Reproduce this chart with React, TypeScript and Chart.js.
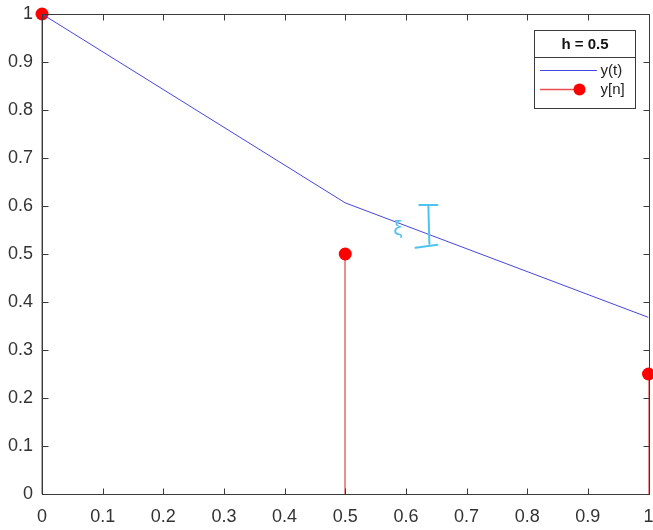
import React, { useEffect, useRef } from "react";
import { Chart, registerables } from "chart.js";

Chart.register(...registerables);

const T_VALUES = [0, 0.5, 1];
const Y_EXACT = [1, 0.6065, 0.3679];
const Y_EULER = [1, 0.5, 0.25];
const X_TICKS = [0, 0.1, 0.2, 0.3, 0.4, 0.5, 0.6, 0.7, 0.8, 0.9, 1];
const Y_TICKS = [0, 0.1, 0.2, 0.3, 0.4, 0.5, 0.6, 0.7, 0.8, 0.9, 1];
const LEGEND_TITLE = "h = 0.5";
const LEGEND_LABELS = ["y(t)", "y[n]"];
const ERR_BAR_X = [0.622, 0.652];
const ERR_BAR_BOTTOM_X = [0.616, 0.652];
const ERR_BAR_Y = [0.515, 0.602];
const ERR_SYMBOL = "ξ";
const ERR_SYMBOL_POS = [0.587, 0.552];

const BLUE = "rgb(70,70,225)";
const RED = "#ff0000";
const STEM = "rgb(232,80,80)";
const CYAN = "#4fc3f0";
const AXIS = "#3a3a3a";
const FONT = "'Liberation Sans', Arial, sans-serif";

const decorPlugin = {
  id: "decor",
  beforeDatasetsDraw(chart: any) {
    const ctx = chart.ctx;
    const xs = chart.scales.x;
    const ys = chart.scales.y;
    ctx.save();
    ctx.strokeStyle = STEM;
    ctx.lineWidth = 1.3;
    T_VALUES.forEach((t, i) => {
      const px = Math.round(xs.getPixelForValue(t));
      ctx.beginPath();
      ctx.moveTo(px, ys.getPixelForValue(0));
      ctx.lineTo(px, ys.getPixelForValue(Y_EULER[i]));
      ctx.stroke();
    });
    ctx.restore();
  },
  afterDraw(chart: any) {
    const ctx = chart.ctx;
    const a = chart.chartArea;
    const xs = chart.scales.x;
    const ys = chart.scales.y;
    ctx.save();
    // box
    ctx.strokeStyle = AXIS;
    ctx.lineWidth = 1;
    const L = Math.round(a.left) + 0.5;
    const R = Math.round(a.right) + 0.5;
    const Tp = Math.round(a.top) + 0.5;
    const B = Math.round(a.bottom) + 0.5;
    ctx.strokeRect(L, Tp, R - L, B - Tp);
    // inward ticks
    const tl = 6;
    ctx.beginPath();
    X_TICKS.forEach((v) => {
      const px = Math.round(xs.getPixelForValue(v)) + 0.5;
      ctx.moveTo(px, B);
      ctx.lineTo(px, B - tl);
      ctx.moveTo(px, Tp);
      ctx.lineTo(px, Tp + tl);
    });
    Y_TICKS.forEach((v) => {
      const py = Math.round(ys.getPixelForValue(v)) + 0.5;
      ctx.moveTo(L, py);
      ctx.lineTo(L + tl, py);
      ctx.moveTo(R, py);
      ctx.lineTo(R - tl, py);
    });
    ctx.stroke();

    // cyan annotation
    ctx.strokeStyle = CYAN;
    ctx.lineWidth = 2;
    ctx.lineCap = "round";
    const yTop = ys.getPixelForValue(ERR_BAR_Y[1]);
    const yBot = ys.getPixelForValue(ERR_BAR_Y[0]);
    const xMid = xs.getPixelForValue((ERR_BAR_X[0] + ERR_BAR_X[1]) / 2);
    ctx.beginPath();
    ctx.moveTo(xs.getPixelForValue(ERR_BAR_X[0]), yTop);
    ctx.lineTo(xs.getPixelForValue(ERR_BAR_X[1]), yTop);
    ctx.moveTo(xMid, yTop);
    ctx.lineTo(xMid + 1, yBot - 3);
    ctx.moveTo(xs.getPixelForValue(ERR_BAR_BOTTOM_X[0]), yBot + 1);
    ctx.lineTo(xs.getPixelForValue(ERR_BAR_BOTTOM_X[1]), yBot - 2);
    ctx.stroke();
    ctx.fillStyle = CYAN;
    ctx.font = `20px ${FONT}`;
    ctx.textAlign = "center";
    ctx.textBaseline = "middle";
    ctx.fillText(ERR_SYMBOL, xs.getPixelForValue(ERR_SYMBOL_POS[0]), ys.getPixelForValue(ERR_SYMBOL_POS[1]));

    // legend
    const lw = 101;
    const lh = 78;
    const lx = Math.round(a.right - 14) - lw + 0.5;
    const ly = Math.round(a.top + 16) + 0.5;
    ctx.fillStyle = "#ffffff";
    ctx.fillRect(lx, ly, lw, lh);
    ctx.strokeStyle = AXIS;
    ctx.lineWidth = 1;
    ctx.strokeRect(lx, ly, lw, lh);
    ctx.beginPath();
    ctx.moveTo(lx, ly + 27);
    ctx.lineTo(lx + lw, ly + 27);
    ctx.stroke();
    ctx.fillStyle = "#111";
    ctx.font = `bold 15px ${FONT}`;
    ctx.textAlign = "center";
    ctx.fillText(LEGEND_TITLE, lx + lw / 2, ly + 14);
    ctx.font = `15px ${FONT}`;
    ctx.textAlign = "left";
    ctx.fillStyle = "#222";
    // entry 1
    const e1y = ly + 40;
    ctx.strokeStyle = BLUE;
    ctx.beginPath();
    ctx.moveTo(lx + 6, e1y);
    ctx.lineTo(lx + 62, e1y);
    ctx.stroke();
    ctx.fillText(LEGEND_LABELS[0], lx + 66, e1y);
    // entry 2
    const e2y = ly + 59;
    ctx.strokeStyle = STEM;
    ctx.lineWidth = 1.3;
    ctx.beginPath();
    ctx.moveTo(lx + 6, e2y);
    ctx.lineTo(lx + 45, e2y);
    ctx.stroke();
    ctx.fillStyle = RED;
    ctx.beginPath();
    ctx.arc(lx + 45, e2y, 6, 0, Math.PI * 2);
    ctx.fill();
    ctx.fillStyle = "#222";
    ctx.fillText(LEGEND_LABELS[1], lx + 66, e2y);
    ctx.restore();
  },
};

export default function App() {
  const ref = useRef<HTMLCanvasElement>(null);
  useEffect(() => {
    if (!ref.current) return;
    const chart = new Chart(ref.current, {
      type: "scatter",
      data: {
        datasets: [
          {
            label: LEGEND_LABELS[0],
            data: T_VALUES.map((t, i) => ({ x: t, y: Y_EXACT[i] })),
            showLine: true,
            borderColor: BLUE,
            borderWidth: 1,
            pointRadius: 0,
            pointHoverRadius: 0,
          },
          {
            label: LEGEND_LABELS[1],
            data: T_VALUES.map((t, i) => ({ x: t, y: Y_EULER[i] })),
            showLine: false,
            backgroundColor: RED,
            borderColor: RED,
            borderWidth: 0,
            pointRadius: 6.5,
            clip: false as any,
          },
        ],
      },
      options: {
        animation: false,
        responsive: false,
        maintainAspectRatio: false,
        events: [],
        layout: { padding: { top: 14, right: 0, left: 0, bottom: 0 } },
        plugins: {
          legend: { display: false },
          tooltip: { enabled: false },
        },
        scales: {
          x: {
            type: "linear",
            min: 0,
            max: 1,
            grid: { display: false, drawTicks: false },
            border: { display: false },
            afterBuildTicks: (s: any) => {
              s.ticks = X_TICKS.map((v) => ({ value: v }));
            },
            afterFit: (s: any) => {
              s.height = 36;
              s.paddingLeft = 0;
              s.paddingRight = 0;
            },
            ticks: {
              autoSkip: false,
              maxRotation: 0,
              padding: 12,
              color: "#333",
              font: { family: FONT, size: 18 },
              callback: (v: any) => String(v),
            },
          },
          y: {
            type: "linear",
            min: 0,
            max: 1,
            grid: { display: false, drawTicks: false },
            border: { display: false },
            afterBuildTicks: (s: any) => {
              s.ticks = Y_TICKS.map((v) => ({ value: v }));
            },
            afterFit: (s: any) => {
              s.width = 42;
              s.paddingTop = 0;
              s.paddingBottom = 0;
            },
            ticks: {
              autoSkip: false,
              padding: 9,
              color: "#333",
              font: { family: FONT, size: 18 },
              callback: (v: any) => String(v),
            },
          },
        },
      },
      plugins: [decorPlugin],
    });
    return () => chart.destroy();
  }, []);
  return (
    <div style={{ position: "fixed", left: 0, top: 0, width: 653, height: 530, background: "#fff", overflow: "hidden" }}>
      <canvas ref={ref} width={655} height={530} style={{ width: 655, height: 530, display: "block" }} />
    </div>
  );
}
